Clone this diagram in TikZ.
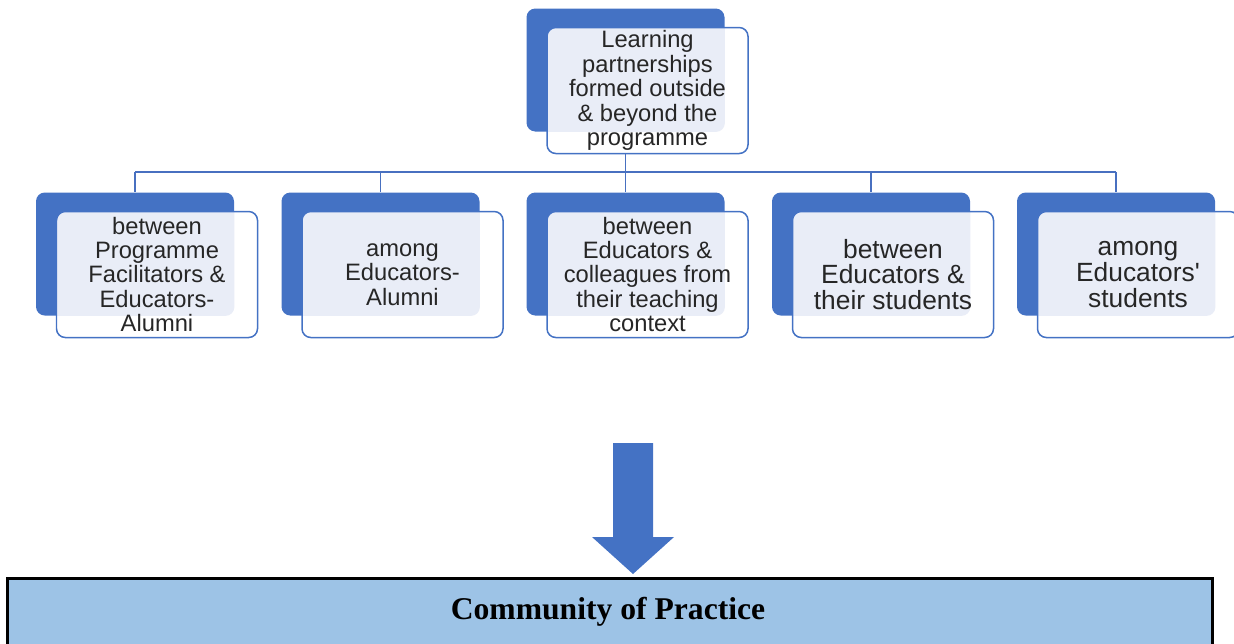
\documentclass[tikz,border=0pt]{standalone}
\usepackage{fontspec}
\setmainfont{Liberation Sans}
\newfontfamily\copfont{Liberation Serif}
\usetikzlibrary{positioning,calc}

\definecolor{boxblue}{RGB}{68,114,196}
\definecolor{paleblue}{RGB}{233,237,247}
\definecolor{linkblue}{RGB}{72,112,192}
\definecolor{copblue}{RGB}{157,195,230}

\tikzset{
  back/.style={rectangle, rounded corners=5pt, fill=boxblue,
    minimum width=3.96cm, minimum height=2.46cm},
  % the part of the front card lying over its back card is tinted
  front/.style={rectangle, rounded corners=5pt, draw=boxblue, line width=0.85pt,
    fill=white, minimum width=4.02cm, minimum height=2.52cm, inner sep=0pt,
    align=center, text=black!85,
    path picture={\fill[paleblue, rounded corners=5pt]
      (#1.north west) rectangle (#1.south east);}},
  link/.style={draw=linkblue, line width=0.9pt},
}

\begin{document}
\begin{tikzpicture}[every node/.style={font=\fontsize{13.5}{13.9}\selectfont}]
  \useasboundingbox (0,0) rectangle (24.68,-12.86);

  % top card
  \node[back] (topback) at (12.51,-1.4) {};
  \node[front=topback] (top) at ($(topback)+(0.44,-0.41)$)
    {Learning\\partnerships\\formed outside\\\& beyond the\\programme};

  % the five kinds of partnership
  \node[back] (back1) at (2.7,-5.08) {};
  \node[back] (back2) at (7.61,-5.08) {};
  \node[back] (back3) at (12.51,-5.08) {};
  \node[back] (back4) at (17.42,-5.08) {};
  \node[back] (back5) at (22.32,-5.08) {};

  \node[front=back1] (part1) at ($(back1)+(0.44,-0.41)$)
    {between\\Programme\\Facilitators \&\\Educators-\\Alumni};
  \node[front=back2] (part2) at ($(back2)+(0.44,-0.41)$)
    {among\\Educators-\\Alumni};
  \node[front=back3] (part3) at ($(back3)+(0.44,-0.41)$)
    {between\\Educators \&\\colleagues from\\their teaching\\context};
  \node[front=back4, font=\fontsize{15}{14.6}\selectfont] (part4) at ($(back4)+(0.44,-0.41)$)
    {between\\Educators \&\\their students};
  \node[front=back5, font=\fontsize{15}{14.6}\selectfont] (part5) at ($(back5)+(0.44,-0.41)$)
    {among\\Educators\textquotesingle\\students};

  % tree lines
  \coordinate (bus) at (0,-3.44);
  \draw[link] (topback.south |- top.south) -- (topback.south |- bus);
  \draw[link] (back1.north |- bus) -- (back5.north |- bus);
  \draw[link] (back1.north |- bus) -- (back1.north);
  \draw[link] (back2.north |- bus) -- (back2.north);
  \draw[link] (back3.north |- bus) -- (back3.north);
  \draw[link] (back4.north |- bus) -- (back4.north);
  \draw[link] (back5.north |- bus) -- (back5.north);

  % block arrow down to the community box
  \coordinate (arrowtop) at (12.66,-8.86);
  \fill[boxblue] ($(arrowtop)+(-0.4,0)$) -- ($(arrowtop)+(0.4,0)$)
    -- ($(arrowtop)+(0.4,-1.88)$) -- ($(arrowtop)+(0.82,-1.88)$)
    -- ($(arrowtop)+(0,-2.62)$) -- ($(arrowtop)+(-0.82,-1.88)$)
    -- ($(arrowtop)+(-0.4,-1.88)$) -- cycle;

  % community box, running on past the lower edge
  \draw[line width=1.7pt, fill=copblue] (0.15,-13.6) rectangle (24.25,-11.57);
  \node[font=\copfont\bfseries\fontsize{18}{20}\selectfont] (cop) at (12.16,-12.24)
    {Community of Practice};
\end{tikzpicture}
\end{document}
